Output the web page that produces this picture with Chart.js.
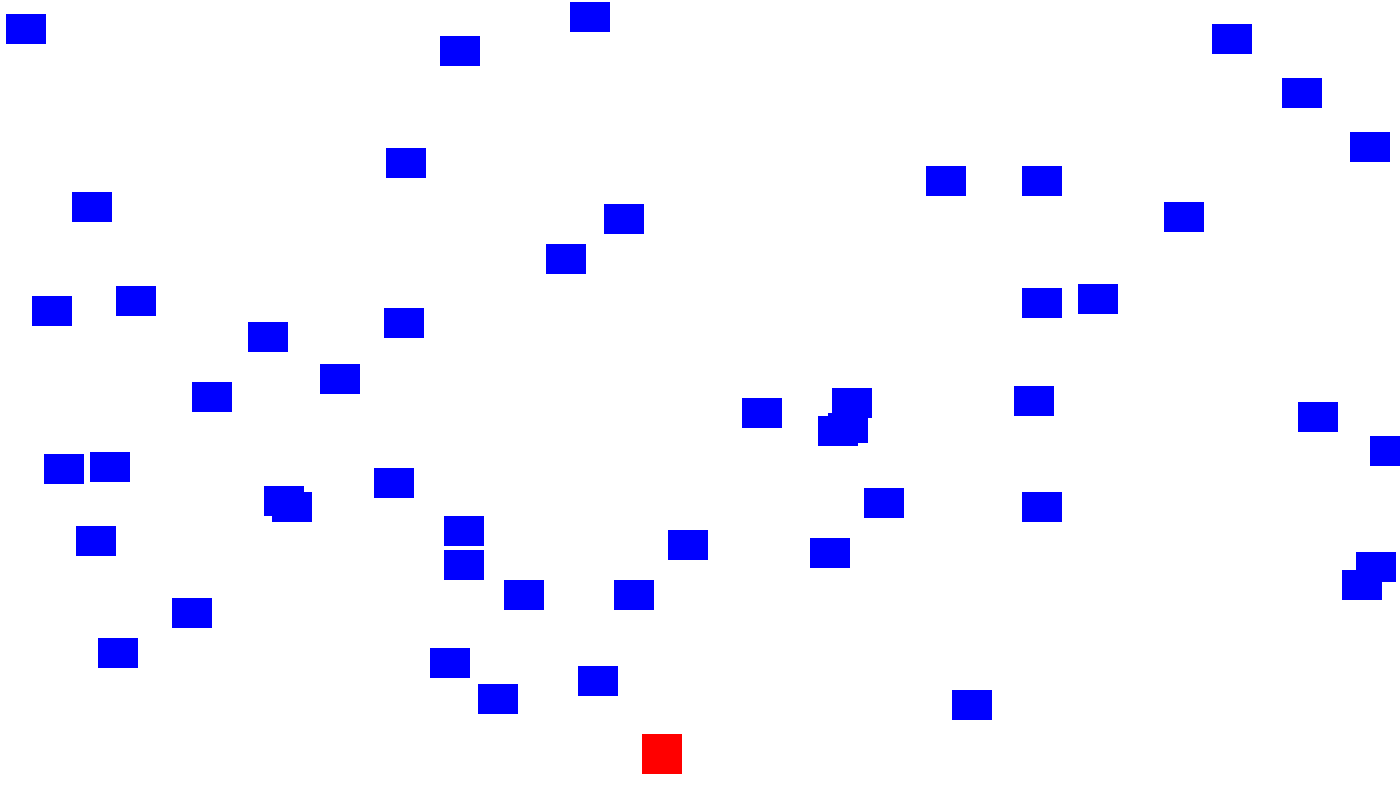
<!DOCTYPE html>
<html>
<head>
<meta charset="utf-8">
<script src="https://cdn.jsdelivr.net/npm/chart.js@4/dist/chart.umd.min.js"></script>
<style>
  html, body { margin: 0; padding: 0; background: #ffffff; overflow: hidden; }
  #wrap { width: 1400px; height: 794px; position: relative; }
</style>
</head>
<body>
<div id="wrap"><canvas id="c"></canvas></div>
<script>
// Blue markers (centres)
const blueX = [26, 590, 460, 1232, 1302, 1370, 406, 92, 946, 1042, 624, 1184, 566,
  52, 136, 1042, 1098, 268, 404, 340, 212, 762, 852, 848, 838, 1034, 1318, 1390,
  64, 110, 284, 292, 394, 884, 1042, 96, 464, 464, 688, 830, 524, 634, 192,
  1376, 1362, 118, 450, 498, 598, 972];
const blueY = [29, 17, 51, 39, 93, 147, 163, 207, 181, 181, 219, 217, 259,
  311, 301, 303, 299, 337, 323, 379, 397, 413, 403, 428, 431, 401, 417, 451,
  469, 467, 501, 507, 483, 503, 507, 541, 531, 565, 545, 553, 595, 595, 613,
  567, 585, 653, 663, 699, 681, 705];
// Red marker
const redX = [662];
const redY = [754];

function makeRect(w, h, color) {
  const cv = document.createElement('canvas');
  cv.width = w; cv.height = h;
  const g = cv.getContext('2d');
  g.fillStyle = color;
  g.fillRect(0, 0, w, h);
  return cv;
}
const blueRect = makeRect(40, 30, '#0000ff');
const redRect = makeRect(40, 40, '#ff0000');

const toPts = (xs, ys) => xs.map((x, i) => ({ x: x, y: ys[i] }));

new Chart(document.getElementById('c'), {
  type: 'scatter',
  data: {
    datasets: [
      { data: toPts(blueX, blueY), pointStyle: blueRect, pointRadius: 20, clip: false },
      { data: toPts(redX, redY), pointStyle: redRect, pointRadius: 20, clip: false }
    ]
  },
  options: {
    responsive: true,
    maintainAspectRatio: false,
    animation: false,
    layout: { padding: 0, autoPadding: false },
    plugins: { legend: { display: false }, tooltip: { enabled: false } },
    events: [],
    scales: {
      x: { type: 'linear', min: 0, max: 1400, display: false },
      y: { type: 'linear', min: 0, max: 794, reverse: true, display: false }
    }
  }
});
</script>
</body>
</html>
